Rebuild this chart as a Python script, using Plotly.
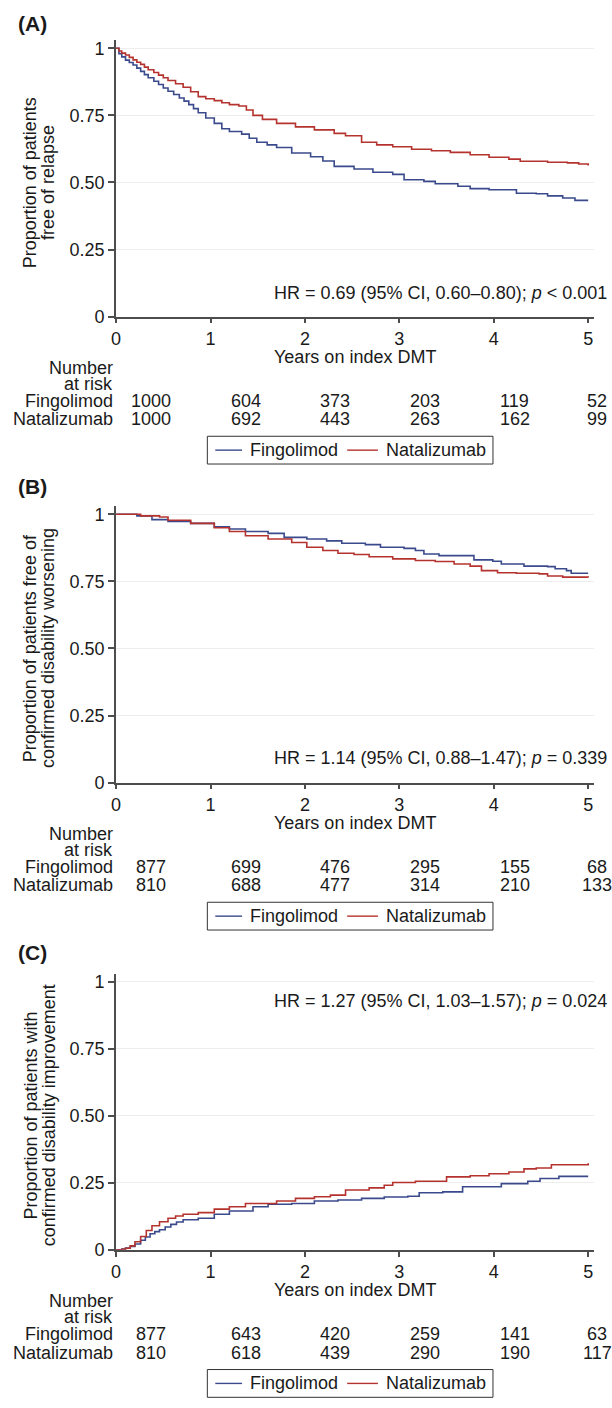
import plotly.graph_objects as go

# ---------------- data ----------------
groups = ["Fingolimod", "Natalizumab"]
year_ticks = [0, 1, 2, 3, 4, 5]
year_labels = ["0", "1", "2", "3", "4", "5"]
prop_ticks = [0, 0.25, 0.5, 0.75, 1]
prop_labels = ["0", "0.25", "0.50", "0.75", "1"]

# Panel A: free of relapse
a_fing_t = [0, 0.03, 0.06, 0.1, 0.14, 0.18, 0.22, 0.26, 0.3, 0.34, 0.4, 0.45, 0.5, 0.55, 0.61, 0.67,
            0.72, 0.77, 0.82, 0.87, 0.95, 1.04, 1.12, 1.2, 1.33, 1.41, 1.49, 1.6, 1.7, 1.86, 2.06, 2.19,
            2.31, 2.52, 2.72, 2.93, 3.05, 3.26, 3.38, 3.62, 3.75, 3.95, 4.24, 4.45, 4.57, 4.73, 4.86, 5.0]
a_fing_s = [1, 0.98, 0.968, 0.956, 0.947, 0.938, 0.926, 0.914, 0.902, 0.89, 0.877, 0.865, 0.852, 0.84,
            0.828, 0.815, 0.803, 0.79, 0.775, 0.76, 0.74, 0.72, 0.70, 0.69, 0.68, 0.665, 0.65, 0.64,
            0.63, 0.61, 0.596, 0.58, 0.56, 0.55, 0.538, 0.53, 0.51, 0.504, 0.495, 0.486, 0.477, 0.473,
            0.46, 0.458, 0.45, 0.442, 0.433, 0.433]
a_nat_t = [0, 0.03, 0.06, 0.1, 0.14, 0.18, 0.22, 0.26, 0.3, 0.34, 0.4, 0.45, 0.5, 0.55, 0.63, 0.71,
           0.79, 0.87, 0.95, 1.04, 1.12, 1.2, 1.3, 1.38, 1.45, 1.55, 1.7, 1.9, 2.1, 2.31, 2.43, 2.6, 2.76,
           2.93, 3.13, 3.34, 3.54, 3.75, 3.95, 4.16, 4.28, 4.57, 4.78, 4.9, 5.0]
a_nat_s = [1, 0.99, 0.982, 0.975, 0.966, 0.957, 0.948, 0.94, 0.93, 0.92, 0.91, 0.9, 0.89, 0.88, 0.868,
           0.855, 0.838, 0.82, 0.812, 0.805, 0.797, 0.79, 0.785, 0.77, 0.75, 0.735, 0.72, 0.707, 0.696,
           0.683, 0.674, 0.65, 0.64, 0.633, 0.624, 0.618, 0.612, 0.603, 0.594, 0.587, 0.579, 0.575,
           0.573, 0.569, 0.563]

# Panel B: free of confirmed disability worsening
b_fing_t = [0, 0.22, 0.38, 0.55, 0.79, 1.04, 1.2, 1.37, 1.61, 1.78, 2.02, 2.23, 2.39, 2.64, 2.8, 3.05,
            3.17, 3.26, 3.42, 3.71, 3.79, 3.99, 4.08, 4.32, 4.57, 4.65, 4.77, 4.82, 5.0]
b_fing_s = [1, 0.994, 0.98, 0.973, 0.966, 0.953, 0.945, 0.936, 0.929, 0.914, 0.908, 0.901, 0.892, 0.887,
            0.877, 0.873, 0.865, 0.852, 0.846, 0.846, 0.83, 0.825, 0.815, 0.807, 0.805, 0.797, 0.79,
            0.78, 0.78]
b_nat_t = [0, 0.2, 0.26, 0.46, 0.55, 0.79, 1.04, 1.2, 1.37, 1.61, 1.86, 2.02, 2.19, 2.35, 2.52, 2.68,
           2.93, 3.17, 3.38, 3.58, 3.75, 3.87, 4.04, 4.24, 4.48, 4.57, 4.73, 5.0]
b_nat_s = [1, 1.0, 0.994, 0.99, 0.978, 0.966, 0.95, 0.936, 0.92, 0.908, 0.895, 0.877, 0.865, 0.855, 0.85,
           0.842, 0.834, 0.828, 0.824, 0.815, 0.807, 0.79, 0.782, 0.78, 0.778, 0.77, 0.766, 0.764]

# Panel C: with confirmed disability improvement
c_fing_t = [0, 0.06, 0.1, 0.15, 0.2, 0.26, 0.31, 0.36, 0.41, 0.46, 0.52, 0.58, 0.64, 0.71, 0.87, 1.04,
            1.2, 1.45, 1.61, 1.86, 2.1, 2.35, 2.6, 2.84, 3.09, 3.21, 3.46, 3.67, 3.91, 4.08, 4.36, 4.49,
            4.69, 5.0]
c_fing_s = [0, 0.003, 0.007, 0.013, 0.022, 0.036, 0.048, 0.06, 0.068, 0.075, 0.085, 0.095, 0.104, 0.112,
            0.118, 0.133, 0.145, 0.161, 0.17, 0.173, 0.182, 0.186, 0.192, 0.197, 0.2, 0.213, 0.216,
            0.235, 0.235, 0.247, 0.256, 0.266, 0.274, 0.274]
c_nat_t = [0, 0.06, 0.1, 0.15, 0.2, 0.26, 0.32, 0.38, 0.46, 0.55, 0.63, 0.71, 0.87, 1.04, 1.2, 1.37,
           1.53, 1.7, 1.9, 2.1, 2.27, 2.43, 2.68, 2.84, 2.93, 3.17, 3.38, 3.5, 3.75, 3.95, 4.16, 4.32,
           4.45, 4.61, 4.9, 5.0]
c_nat_s = [0, 0.002, 0.006, 0.015, 0.03, 0.05, 0.072, 0.09, 0.105, 0.118, 0.126, 0.133, 0.139, 0.152,
           0.161, 0.173, 0.173, 0.182, 0.192, 0.198, 0.204, 0.223, 0.231, 0.241, 0.251, 0.256, 0.256,
           0.272, 0.276, 0.284, 0.29, 0.302, 0.305, 0.317, 0.317, 0.323]

# Numbers at risk at years 0..5
risk_a_fing = [1000, 604, 373, 203, 119, 52]
risk_a_nat = [1000, 692, 443, 263, 162, 99]
risk_b_fing = [877, 699, 476, 295, 155, 68]
risk_b_nat = [810, 688, 477, 314, 210, 133]
risk_c_fing = [877, 643, 420, 259, 141, 63]
risk_c_nat = [810, 618, 439, 290, 190, 117]

hr_texts = ["HR = 0.69 (95% CI, 0.60\u20130.80); <i>p</i> < 0.001",
            "HR = 1.14 (95% CI, 0.88\u20131.47); <i>p</i> = 0.339",
            "HR = 1.27 (95% CI, 1.03\u20131.57); <i>p</i> = 0.024"]
y_titles = [("Proportion of patients", "free of relapse"),
            ("Proportion of patients free of", "confirmed disability worsening"),
            ("Proportion of patients with", "confirmed disability improvement")]
panel_letters = ["(A)", "(B)", "(C)"]
x_title = "Years on index DMT"

panels = [
    ((a_fing_t, a_fing_s), (a_nat_t, a_nat_s), (risk_a_fing, risk_a_nat)),
    ((b_fing_t, b_fing_s), (b_nat_t, b_nat_s), (risk_b_fing, risk_b_nat)),
    ((c_fing_t, c_fing_s), (c_nat_t, c_nat_s), (risk_c_fing, risk_c_nat)),
]

# ---------------- layout constants ----------------
W, H = 612, 1408
FONT = "Arial, 'Liberation Sans', sans-serif"
FS = 18
TXT = "#1a1a1a"
AX = "#4d4d4d"
COLORS = ["#3b4a8c", "#b5332e"]
X0_PX, UNIT_PX = 112, 95.2
X_MAX = 5.06
Y_UNIT_PX = 270.6
Y_MAX = 1.03
offsets = [0, 470, 941.3]
letter_y_px = [22, 489, 959]
hr_y_px = [293, 763, 1008]
risk_col_px = [147, 243, 333, 423, 514, 597]
# legend box geometry (panel A pixels; shifted per panel)
LEG_BOX = (204, 438, 492, 466)
LEG_LINES = [(212, 239), (345, 376)]
LEG_TEXT_X = [245, 382]


def py(px):
    return 1 - px / H


def pxr(px):
    return px / W


xdom = [X0_PX / W, (X0_PX + X_MAX * UNIT_PX) / W]

fig = go.Figure()
annotations = []
shapes = []
layout_axes = {}

for i, (fing, nat, risk) in enumerate(panels):
    off = offsets[i]
    sfx = "" if i == 0 else str(i + 1)
    xa, ya = "x" + sfx, "y" + sfx
    bottom_px = 317.3 + off
    top_px = bottom_px - Y_MAX * Y_UNIT_PX

    for g, (t, s), col in zip(groups, (fing, nat), COLORS):
        fig.add_trace(go.Scatter(x=t, y=s, mode="lines", line=dict(color=col, width=1.6, shape="hv"),
                                 name=g, xaxis=xa, yaxis=ya, showlegend=False, hoverinfo="skip"))

    layout_axes["xaxis" + sfx] = dict(
        domain=xdom, anchor=ya, range=[0, X_MAX], tickvals=year_ticks, ticktext=year_labels,
        showline=True, linecolor=AX, linewidth=1.8, ticks="outside", ticklen=5, tickwidth=1.5,
        tickcolor=AX, showgrid=False, zeroline=False, tickfont=dict(size=FS, color=TXT, family=FONT),
        fixedrange=True)
    layout_axes["yaxis" + sfx] = dict(
        domain=[py(bottom_px), py(top_px)], anchor=xa, range=[0, Y_MAX], tickvals=prop_ticks,
        ticktext=prop_labels, showline=True, linecolor=AX, linewidth=1.8, ticks="outside", ticklen=6,
        tickwidth=1.5, tickcolor=AX, showgrid=True, gridcolor="#ededed", gridwidth=1, zeroline=False,
        tickfont=dict(size=FS, color=TXT, family=FONT), fixedrange=True)

    # legend (box, line samples, labels)
    x0b, y0b, x1b, y1b = LEG_BOX
    shapes.append(dict(type="rect", xref="paper", yref="paper", x0=pxr(x0b), x1=pxr(x1b),
                       y0=py(y0b + off), y1=py(y1b + off), line=dict(color="#333333", width=1),
                       fillcolor="white", layer="above"))
    ymid = (y0b + y1b) / 2 + off
    for g, col, (lx0, lx1), tx in zip(groups, COLORS, LEG_LINES, LEG_TEXT_X):
        shapes.append(dict(type="line", xref="paper", yref="paper", x0=pxr(lx0), x1=pxr(lx1),
                           y0=py(ymid), y1=py(ymid), line=dict(color=col, width=1.4), layer="above"))
        annotations.append(dict(text=g, xref="paper", yref="paper", x=pxr(tx), y=py(ymid),
                                xanchor="left", yanchor="middle", showarrow=False,
                                font=dict(size=FS, color=TXT, family=FONT)))

    # panel letter
    annotations.append(dict(text="<b>" + panel_letters[i] + "</b>", xref="paper", yref="paper",
                            x=11 / W, y=py(letter_y_px[i]), xanchor="left", yanchor="middle",
                            showarrow=False, font=dict(size=21, color=TXT, family=FONT)))
    # y-axis title (two lines)
    for line, xpx in zip(y_titles[i], [26, 44]):
        annotations.append(dict(text=line, xref="paper", yref=ya, x=xpx / W, y=0.5, xanchor="center",
                                yanchor="middle", textangle=-90, showarrow=False,
                                font=dict(size=FS, color=TXT, family=FONT)))
    # HR text
    annotations.append(dict(text=hr_texts[i], xref="paper", yref="paper", x=609 / W, y=py(hr_y_px[i]),
                            xanchor="right", yanchor="middle", showarrow=False,
                            font=dict(size=FS, color=TXT, family=FONT)))
    # x-axis title
    annotations.append(dict(text=x_title, xref=xa, yref="paper", x=2.53, y=py(358 + off),
                            xanchor="center", yanchor="middle", showarrow=False,
                            font=dict(size=FS, color=TXT, family=FONT)))
    # number at risk header
    for line, ypx in zip(["Number", "at risk"], [369, 385]):
        annotations.append(dict(text=line, xref="paper", yref="paper", x=111 / W, y=py(ypx + off),
                                xanchor="right", yanchor="middle", showarrow=False,
                                font=dict(size=FS, color=TXT, family=FONT)))
    for g, counts, ypx in zip(groups, risk, [402, 421]):
        annotations.append(dict(text=g, xref="paper", yref="paper", x=111 / W, y=py(ypx + off),
                                xanchor="right", yanchor="middle", showarrow=False,
                                font=dict(size=FS, color=TXT, family=FONT)))
        for yr, n, cpx in zip(year_ticks, counts, risk_col_px):
            annotations.append(dict(text=str(n), xref="paper", yref="paper", x=pxr(cpx),
                                    y=py(ypx + off), xanchor="center", yanchor="middle",
                                    showarrow=False, font=dict(size=FS, color=TXT, family=FONT)))

fig.update_layout(
    width=W, height=H, margin=dict(l=0, r=0, t=0, b=0), paper_bgcolor="white", plot_bgcolor="white",
    font=dict(family=FONT, size=FS, color=TXT), annotations=annotations, shapes=shapes,
    showlegend=False, **layout_axes)

fig.write_html("out.html", config={"displayModeBar": False},
               post_script="document.body.style.margin='0px';document.body.style.overflow='hidden';")
